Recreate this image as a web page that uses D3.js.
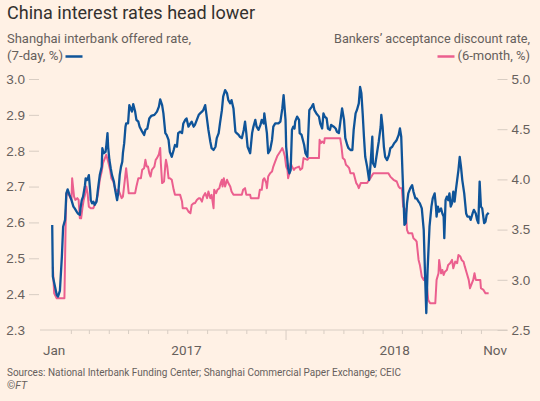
<!DOCTYPE html>
<html>
<head>
<meta charset="utf-8">
<script src="https://cdn.jsdelivr.net/npm/d3@7"></script>
<style>
  body { margin: 0; background: #fff1e5; }
  svg { display: block; font-family: Roboto, "Noto Sans", sans-serif; }
</style>
</head>
<body>
<svg id="chart" width="540" height="401"></svg>
<script>
// days since 1 Jan 2017, rate (%)
var shiborData = [
  [2,2.593],[3,2.449],[9,2.398],[11,2.393],[14,2.41],[17,2.504],[19,2.588],[22,2.607],[24,2.681],[26,2.692],
  [29,2.676],[32,2.662],[35,2.644],[37,2.639],[40,2.63],[42,2.625],[45,2.621],[46,2.639],[48,2.662],[50,2.672],
  [53,2.704],[54,2.723],[56,2.718],[58,2.727],[59,2.732],[61,2.69],[62,2.662],[64,2.653],[66,2.658],[68,2.649],
  [71,2.658],[73,2.69],[76,2.732],[79,2.755],[80,2.807],[82,2.793],[85,2.797],[86,2.811],[88,2.849],[89,2.811],
  [91,2.774],[93,2.751],[95,2.732],[98,2.714],[100,2.69],[103,2.662],[105,2.686],[107,2.732],[109,2.755],[111,2.769],
  [112,2.793],[114,2.821],[116,2.867],[117,2.876],[120,2.876],[122,2.927],[124,2.918],[126,2.909],[128,2.93],[131,2.909],
  [133,2.886],[136,2.881],[138,2.867],[142,2.853],[145,2.844],[147,2.858],[150,2.862],[153,2.89],[156,2.897],[161,2.9],
  [165,2.909],[168,2.923],[170,2.943],[173,2.927],[175,2.904],[178,2.849],[180,2.844],[183,2.83],[185,2.797],[188,2.783],
  [191,2.802],[193,2.816],[196,2.811],[198,2.849],[201,2.853],[204,2.849],[206,2.876],[209,2.886],[211,2.89],[214,2.867],
  [217,2.876],[219,2.881],[222,2.867],[224,2.872],[227,2.886],[230,2.9],[232,2.904],[235,2.909],[237,2.913],[240,2.927],
  [243,2.886],[245,2.858],[248,2.825],[250,2.807],[253,2.802],[256,2.811],[258,2.835],[261,2.849],[263,2.876],[266,2.913],
  [268,2.951],[271,2.969],[274,2.96],[276,2.941],[279,2.932],[281,2.941],[284,2.918],[287,2.853],[289,2.849],[292,2.844],
  [294,2.839],[297,2.835],[300,2.858],[302,2.881],[304,2.849],[306,2.811],[310,2.793],[313,2.849],[315,2.867],[318,2.886],
  [320,2.867],[323,2.858],[326,2.872],[328,2.886],[331,2.876],[332,2.904],[334,2.876],[336,2.849],[338,2.793],[341,2.802],
  [344,2.83],[346,2.867],[349,2.876],[354,2.876],[357,2.881],[360,2.918],[362,2.955],[365,2.886],[366,2.811],[369,2.751],
  [371,2.737],[373,2.746],[375,2.858],[377,2.867],[379,2.862],[380,2.881],[383,2.895],[386,2.886],[387,2.849],[390,2.844],
  [392,2.83],[394,2.816],[396,2.793],[399,2.783],[400,2.83],[402,2.913],[404,2.918],[406,2.923],[408,2.93],[410,2.913],
  [413,2.904],[417,2.895],[419,2.876],[422,2.862],[424,2.904],[426,2.895],[429,2.89],[431,2.862],[434,2.858],[436,2.872],
  [440,2.867],[443,2.862],[445,2.853],[448,2.849],[450,2.876],[453,2.918],[456,2.886],[458,2.835],[461,2.816],[463,2.807],
  [466,2.802],[469,2.802],[471,2.858],[474,2.904],[476,2.913],[479,2.932],[481,2.978],[483,2.96],[485,2.904],[487,2.839],
  [489,2.783],[492,2.755],[495,2.718],[497,2.755],[500,2.839],[501,2.765],[504,2.755],[508,2.802],[510,2.825],[513,2.867],
  [514,2.9],[516,2.867],[518,2.811],[520,2.783],[523,2.774],[526,2.788],[528,2.807],[531,2.811],[534,2.821],[536,2.825],
  [538,2.83],[541,2.844],[543,2.862],[545,2.839],[547,2.737],[549,2.644],[550,2.593],[552,2.598],[554,2.653],[556,2.681],
  [559,2.695],[562,2.704],[564,2.686],[567,2.667],[569,2.667],[572,2.658],[574,2.653],[577,2.639],[580,2.579],[582,2.458],
  [584,2.347],[586,2.467],[589,2.588],[592,2.644],[594,2.667],[597,2.681],[599,2.644],[600,2.616],[602,2.644],[604,2.63],
  [607,2.639],[609,2.625],[611,2.616],[612,2.556],[614,2.662],[616,2.672],[618,2.662],[620,2.681],[622,2.644],[624,2.653],
  [626,2.686],[628,2.658],[630,2.69],[632,2.718],[634,2.746],[636,2.783],[638,2.755],[640,2.718],[643,2.681],[646,2.625],
  [648,2.616],[651,2.616],[653,2.607],[656,2.625],[658,2.635],[661,2.625],[663,2.607],[665,2.598],[667,2.714],[669,2.644],
  [671,2.639],[674,2.598],[676,2.602],[678,2.621],[681,2.627]
]

var bankersData = [
  [3,3.13],[5,2.866],[9,2.816],[21,2.816],[23,3.597],[24,3.863],[28,3.846],[32,3.796],[33,4.012],[36,3.829],
  [38,3.796],[41,3.813],[43,3.796],[45,3.613],[47,3.613],[49,3.713],[51,3.796],[53,3.846],[55,3.929],[57,3.863],
  [59,3.729],[62,3.713],[66,3.713],[68,3.746],[71,3.796],[73,3.846],[76,3.996],[79,4.078],[81,4.162],[84,4.212],
  [86,4.245],[89,4.178],[92,4.095],[94,4.012],[97,3.979],[99,3.929],[102,3.879],[105,3.896],[107,3.863],[110,3.813],
  [112,3.829],[115,3.996],[117,4.112],[119,3.996],[121,3.863],[131,3.863],[133,3.929],[136,4.012],[140,4.012],[142,4.095],
  [145,4.112],[147,4.195],[149,4.128],[151,4.128],[153,4.062],[155,4.028],[157,4.095],[161,4.128],[163,4.195],[165,4.212],
  [168,4.25],[170,4.312],[171,4.162],[173,3.963],[176,3.979],[178,4.145],[179,4.195],[181,4.128],[183,4.012],[185,4.012],
  [188,3.996],[191,3.896],[193,3.846],[201,3.846],[204,3.779],[205,3.713],[211,3.713],[214,3.679],[217,3.663],[219,3.746],
  [222,3.763],[224,3.763],[227,3.796],[230,3.813],[232,3.813],[235,3.779],[237,3.829],[240,3.863],[243,3.813],[245,3.879],
  [248,3.813],[250,3.846],[253,3.713],[254,3.896],[257,3.863],[259,3.896],[262,3.913],[264,3.963],[266,3.996],[267,3.929],
  [269,4.012],[271,3.929],[274,3.996],[276,3.963],[279,3.929],[281,3.879],[284,3.846],[297,3.846],[299,3.896],[302,3.913],
  [304,3.846],[310,3.846],[311,3.813],[323,3.813],[325,3.896],[328,3.896],[330,3.996],[332,4.012],[335,3.963],[336,3.913],
  [338,4.028],[341,4.062],[344,4.078],[346,4.128],[349,4.18],[352,4.23],[355,4.26],[358,4.29],[360,4.312],[362,4.278],
  [364,4.228],[366,4.128],[368,4.095],[369,4.012],[371,4.062],[373,4.162],[375,4.128],[378,4.095],[380,4.112],[386,4.128],
  [388,4.095],[391,4.112],[393,4.212],[399,4.195],[401,4.212],[417,4.212],[418,4.394],[420,4.361],[422,4.378],[425,4.361],
  [426,4.411],[450,4.411],[452,4.328],[454,4.212],[457,4.195],[459,4.145],[462,4.128],[464,4.112],[466,4.062],[471,4.062],
  [473,4.012],[475,3.963],[477,3.946],[479,3.913],[482,3.963],[492,3.963],[495,3.996],[497,4.012],[500,4.045],[502,4.062],
  [525,4.062],[528,4.028],[533,3.996],[538,3.979],[541,3.929],[543,3.913],[546,3.913],[548,3.729],[552,3.696],[554,3.497],
  [556,3.464],[562,3.464],[564,3.414],[567,3.397],[569,3.38],[572,3.198],[574,3.148],[577,3.031],[580,2.999],[582,3.031],
  [585,2.932],[587,2.799],[590,2.766],[598,2.766],[600,2.999],[603,3.065],[604,3.198],[607,3.065],[609,3.098],[611,3.048],
  [613,3.081],[616,3.098],[618,3.148],[621,3.165],[624,3.198],[626,3.115],[629,3.181],[632,3.165],[634,3.248],[637,3.231],
  [639,3.198],[642,3.181],[644,3.131],[647,3.065],[650,2.999],[652,2.916],[655,2.966],[657,2.999],[659,3.065],[661,2.999],
  [668,2.999],[669,2.916],[673,2.899],[676,2.866],[681,2.866]
]

var leftTicks = [2.3, 2.4, 2.5, 2.6, 2.7, 2.8, 2.9, 3.0]
var rightTicks = [2.5, 3.0, 3.5, 4.0, 4.5, 5.0]
var xTickLabels = ["Jan", "2017", "2018", "Nov"]
var xTickDates = ["2017-01-06", "2017-07-31", "2018-06-20", "2018-11-23"]

var blue = '#0f5499'
var pink = '#eb5f8e'
var grey = '#66605c'
var rule = '#d8cdc3'

var svg = d3.select("#chart")
var base = Date.UTC(2017, 0, 1)
var parse = d3.utcParse("%Y-%m-%d")
function toDate(d) { return d3.utcDay.offset(new Date(base), d) }

var x = d3.scaleUtc()
  .domain([parse("2016-12-15"), parse("2018-11-26")])
  .range([40, 497])
var yL = d3.scaleLinear().domain([2.3, 3.0]).range([330, 79])
var yR = d3.scaleLinear().domain([2.5, 5.0]).range([330, 79])

svg.append("rect").attr("width", 540).attr("height", 401).attr("fill", "#fff1e5")

// titles
svg.append("text").attr("x", 7).attr("y", 19)
  .attr("font-size", 18.5).attr("fill", "#33302e")
  .attr("textLength", 248).attr("lengthAdjust", "spacingAndGlyphs")
  .text("China interest rates head lower")

svg.append("text").attr("x", 7).attr("y", 42.5)
  .attr("font-size", 13).attr("fill", grey)
  .attr("textLength", 184).attr("lengthAdjust", "spacingAndGlyphs")
  .text("Shanghai interbank offered rate,")
svg.append("text").attr("x", 7).attr("y", 60)
  .attr("font-size", 13).attr("fill", grey)
  .attr("textLength", 56).attr("lengthAdjust", "spacingAndGlyphs")
  .text("(7-day, %)")
svg.append("line").attr("x1", 65.5).attr("x2", 82.5).attr("y1", 56.5).attr("y2", 56.5)
  .attr("stroke", blue).attr("stroke-width", 2.5)

svg.append("text").attr("x", 530).attr("y", 42.5).attr("text-anchor", "end")
  .attr("font-size", 13).attr("fill", grey)
  .attr("textLength", 196).attr("lengthAdjust", "spacingAndGlyphs")
  .text("Bankers\u2019 acceptance discount rate,")
svg.append("text").attr("x", 530).attr("y", 60).attr("text-anchor", "end")
  .attr("font-size", 13).attr("fill", grey)
  .attr("textLength", 72.5).attr("lengthAdjust", "spacingAndGlyphs")
  .text("(6-month, %)")
svg.append("line").attr("x1", 437.5).attr("x2", 454.5).attr("y1", 56.5).attr("y2", 56.5)
  .attr("stroke", pink).attr("stroke-width", 2.5)

// left axis
var gl = svg.append("g").attr("transform", "translate(39,0)")
  .call(d3.axisLeft(yL).tickValues(leftTicks).tickSize(10).tickPadding(4).tickFormat(d3.format(".1f")))
gl.select(".domain").remove()
gl.selectAll(".tick line").attr("stroke", rule).filter(function(d) { return d == 2.3 }).remove()
gl.selectAll(".tick text").attr("font-size", 13.5).attr("fill", grey).attr("font-family", null)

// right axis
var gr = svg.append("g").attr("transform", "translate(497.5,0)")
  .call(d3.axisRight(yR).tickValues(rightTicks).tickSize(10).tickPadding(4).tickFormat(d3.format(".1f")))
gr.select(".domain").remove()
gr.selectAll(".tick line").attr("stroke", rule)
gr.selectAll(".tick text").attr("font-size", 13.5).attr("fill", grey).attr("font-family", null)

// bottom axis
var months = d3.utcMonth.range(parse("2017-02-01"), parse("2018-12-01"))
var gb = svg.append("g").attr("transform", "translate(0,330)")
  .call(d3.axisBottom(x).tickValues(months).tickSize(4).tickFormat(""))
gb.select(".domain").remove()
gb.selectAll(".tick line").attr("stroke", rule)
  .attr("y2", function(d) { return d.getUTCMonth() == 0 ? 10 : 4 })
svg.append("line").attr("x1", 40).attr("x2", 507.5).attr("y1", 330).attr("y2", 330)
  .attr("stroke", rule).attr("stroke-width", 1)

svg.append("g").selectAll("text").data(xTickLabels).join("text")
  .attr("x", function(d, i) { return x(parse(xTickDates[i])) })
  .attr("y", 355)
  .attr("text-anchor", "middle")
  .attr("font-size", 13.5).attr("fill", grey)
  .text(function(d) { return d })

// lines
var lineL = d3.line().x(function(d) { return x(toDate(d[0])) }).y(function(d) { return yL(d[1]) })
var lineR = d3.line().x(function(d) { return x(toDate(d[0])) }).y(function(d) { return yR(d[1]) })

svg.append("path").datum(bankersData).attr("d", lineR)
  .attr("fill", "none").attr("stroke", pink).attr("stroke-width", 2).attr("stroke-linejoin", "round")
svg.append("path").datum(shiborData).attr("d", lineL)
  .attr("fill", "none").attr("stroke", blue).attr("stroke-width", 2.3).attr("stroke-linejoin", "round")

// source
svg.append("text").attr("x", 7).attr("y", 376)
  .attr("font-size", 11).attr("fill", grey)
  .attr("textLength", 394).attr("lengthAdjust", "spacingAndGlyphs")
  .text("Sources: National Interbank Funding Center; Shanghai Commercial Paper Exchange; CEIC")
svg.append("text").attr("x", 7).attr("y", 389)
  .attr("font-size", 10.5).attr("fill", grey)
  .text("\u00a9")
  .append("tspan").attr("font-style", "italic").text("FT")
</script>
</body>
</html>
